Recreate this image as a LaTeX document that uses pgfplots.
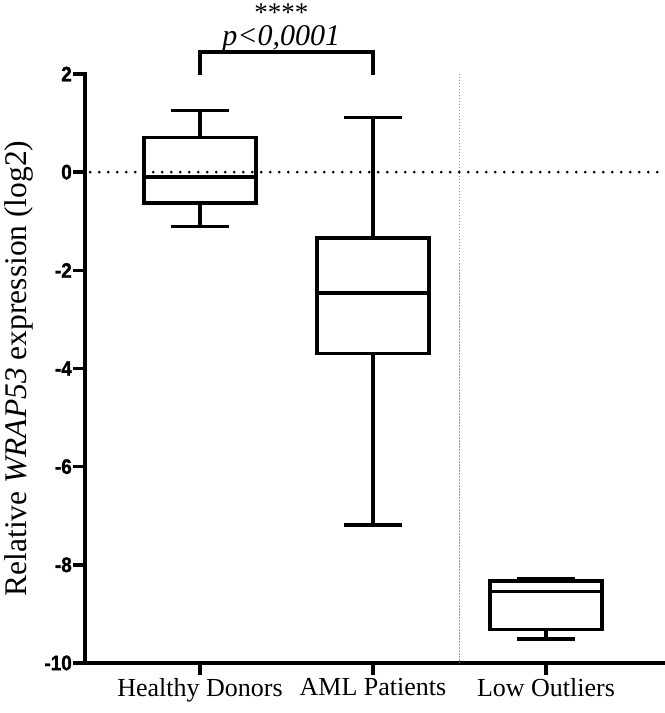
\documentclass[border=0pt]{standalone}
\usepackage{fontspec}
\setmainfont{Liberation Serif}
\newfontfamily\tickfont{Liberation Sans}[FakeStretch=0.9, FakeBold=1.5]
\usepackage{pgfplots}
\pgfplotsset{compat=1.18}
\usepgfplotslibrary{statistics}
\begin{document}
\begin{tikzpicture}
\begin{axis}[
  scale only axis, width=579pt, height=589pt,
  xmin=-0.665, xmax=2.682, ymin=-10, ymax=2,
  axis lines*=left,
  axis line style={line width=4pt, line cap=rect},
  xtick={0,1,2}, xticklabels={Healthy Donors, AML Patients, Low Outliers},
  ytick={-10,-8,-6,-4,-2,0,2}, yticklabels={-10,-8,-6,-4,-2,0,2},
  tick style={line width=3.5pt, black},
  tick align=outside, major tick length=12pt,
  yticklabel style={font=\tickfont\bfseries\fontsize{21}{21}\selectfont, inner sep=1pt},
  xticklabel style={font=\fontsize{26}{26}\selectfont},
  ylabel={Relative \textit{WRAP53} expression (log2)},
  ylabel style={font=\fontsize{31.5}{31.5}\selectfont, at={(axis description cs:0,0.5)}, anchor=north, inner sep=0pt, yshift=81pt},
  clip=false,
  boxplot/draw direction=y,
  boxplot/every median/.style={line width=3.2pt},
  boxplot/every whisker/.style={line width=3.2pt},
  boxplot/every box/.style={line width=3.2pt},
]
\addplot[black, line width=3.2pt, fill=white, solid, boxplot prepared={median=-0.10, upper quartile=0.71, lower quartile=-0.63, upper whisker=1.26, lower whisker=-1.10, draw position=0, box extend=0.647, whisker extend=0.335}] coordinates {};
\addplot[black, line width=3.2pt, fill=white, solid, boxplot prepared={median=-2.46, upper quartile=-1.34, lower quartile=-3.69, upper whisker=1.12, lower whisker=-7.19, draw position=1, box extend=0.647, whisker extend=0.335}] coordinates {};
\addplot[black, line width=3.2pt, fill=white, solid, boxplot prepared={median=-8.55, upper quartile=-8.33, lower quartile=-9.31, upper whisker=-8.29, lower whisker=-9.51, draw position=2, box extend=0.647, whisker extend=0.335}] coordinates {};
\addplot[gray!80, line width=1.5pt, dash pattern=on 1.5pt off 1.5pt] coordinates {(1.5,2) (1.5,-10)};
\addplot[black, line width=3pt, line cap=round, dash pattern=on 0pt off 9pt] coordinates {(-0.635,0) (2.682,0)};
\addplot[black, line width=4pt] coordinates {(0,1.98) (0,2.44) (1,2.44) (1,1.98)};
\node[font=\fontsize{30}{24}\selectfont, align=center, anchor=south, inner sep=0pt] at (axis cs:0.47,2.44) {{\fontsize{27}{24}\selectfont ****}\\\textit{p<0,0001}};
\end{axis}
\pgfresetboundingbox
\useasboundingbox ([shift={(-85pt,-50pt)}]current axis.south west) rectangle ([shift={(1pt,74pt)}]current axis.north east);
\end{tikzpicture}
\end{document}
